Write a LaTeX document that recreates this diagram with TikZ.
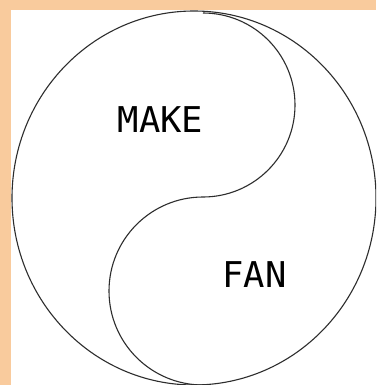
\documentclass[tikz,border=0pt]{standalone}
\usepackage{fontspec}
\newfontfamily\labelmono{DejaVu Sans Mono}
\definecolor{peach}{RGB}{249,203,157}
\definecolor{inkline}{RGB}{45,45,45}
\tikzset{
  outline/.style={draw=inkline, line width=1.1pt},
  word/.style={font=\labelmono\fontsize{35.5}{40}\selectfont, inner sep=0pt, text=black}
}
\begin{document}
\begin{tikzpicture}[x=1pt,y=-1pt]
\fill[peach] (0,0) rectangle (376,385);
\useasboundingbox (0,0) rectangle (376,385);
\fill[white] (11,10) rectangle (376,385);
\begin{scope}
\clip (11,10) rectangle (376,385);
\draw[outline] (194,198) ellipse [x radius=182, y radius=187];
\draw[outline] (203,13) arc[start angle=-90, end angle=90, radius=92]
  arc[start angle=270, end angle=90, radius=94];
\end{scope}
\node[word] (make) at (160.5,119.5) {MAKE};
\node[word] (fan) at (254.5,275) {FAN};
\end{tikzpicture}
\end{document}
